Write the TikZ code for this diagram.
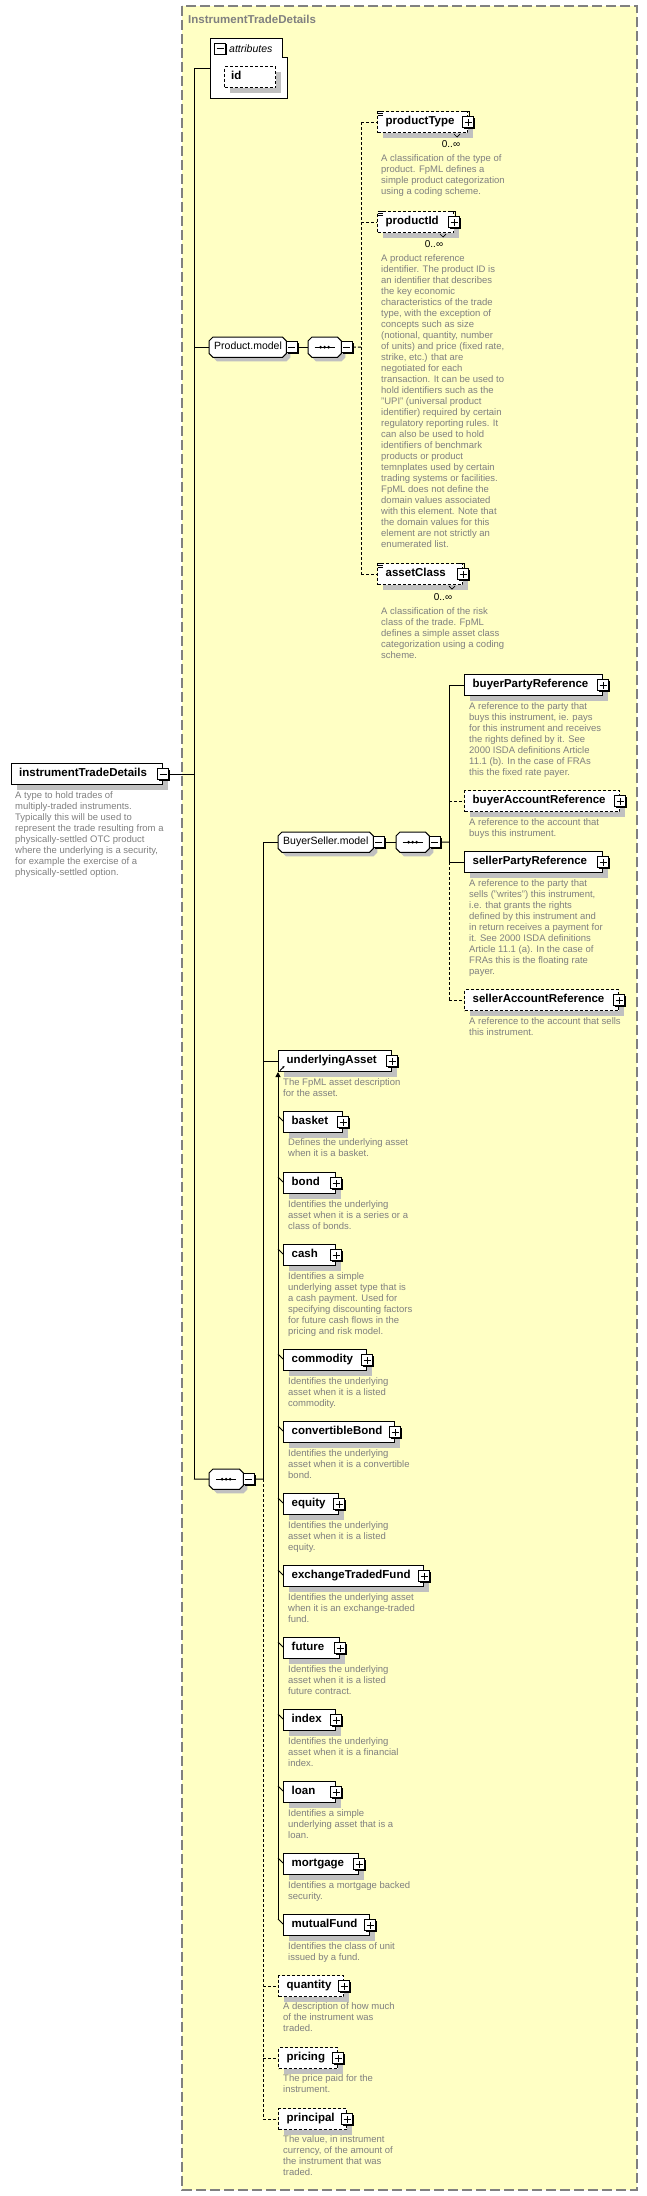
\documentclass[tikz,border=0pt]{standalone}
\usepackage{fontspec}
\setmainfont{Liberation Sans}
\usetikzlibrary{shadows,arrows.meta,calc}
\definecolor{bgyellow}{RGB}{255,255,196}
\definecolor{descgray}{RGB}{128,128,128}
\definecolor{bordergray}{RGB}{128,128,128}
\definecolor{shadowgray}{RGB}{192,192,192}
\tikzset{
  elembox/.style={draw, fill=white, line width=1pt, anchor=north west, minimum height=21pt, inner sep=0pt,
    drop shadow={shadow xshift=5pt, shadow yshift=-5pt, fill=shadowgray, opacity=1}},
  optbox/.style={elembox, dash pattern=on 3pt off 2pt},
  eltext/.style={anchor=west, font=\fontsize{11.5}{13}\selectfont\bfseries, inner sep=0pt, text height=8pt, text depth=3pt},
  grptext/.style={anchor=west, font=\fontsize{10.5}{12}\selectfont, inner sep=0pt, text height=7.5pt, text depth=2.5pt},
  desc/.style={anchor=north west, align=left, font=\fontsize{9.5}{11}\selectfont, text=descgray, inner sep=0pt},
  card/.style={font=\fontsize{10}{12}\selectfont, inner sep=0pt},
  pbox/.style={draw, fill=white, line width=1pt, minimum size=11pt, inner sep=0pt,
    drop shadow={shadow xshift=1.3pt, shadow yshift=-1.3pt, fill=black, opacity=1}},
  pbtn/.style={pbox, path picture={\draw[line width=1pt]
      ([xshift=-3.5pt]path picture bounding box.center) -- ([xshift=3.5pt]path picture bounding box.center)
      ([yshift=-3.5pt]path picture bounding box.center) -- ([yshift=3.5pt]path picture bounding box.center);}},
  mbtn/.style={pbox, path picture={\draw[line width=1pt]
      ([xshift=-3.5pt]path picture bounding box.center) -- ([xshift=3.5pt]path picture bounding box.center);}},
  grpbox/.style={anchor=north west, minimum height=20pt, inner sep=0pt, draw=none},
  conn/.style={line width=1pt},
  dconn/.style={line width=1pt, dash pattern=on 3pt off 2pt},
}
% element box with plus button: [style]{name}{x1}{y1}{x2}{text}
\newcommand\elm[6][elembox]{%
  \pgfmathsetmacro\elw{#5-#3}%
  \node[#1, minimum width=\elw pt] (#2) at (#3,#4) {};
  \node[eltext] (#2-t) at ([xshift=8.5pt]#2.west) {#6};
  \node[pbtn] (#2-p) at (#2.east) {};
}
% octagon outline around a group node
\newcommand\octo[1]{%
  \fill[shadowgray] ([shift={(4pt,-4pt)},xshift=4pt]#1.north west) -- ([shift={(4pt,-4pt)},xshift=-4pt]#1.north east)
    -- ([shift={(4pt,-4pt)},yshift=-4pt]#1.north east) -- ([shift={(4pt,-4pt)},yshift=4pt]#1.south east)
    -- ([shift={(4pt,-4pt)},xshift=-4pt]#1.south east) -- ([shift={(4pt,-4pt)},xshift=4pt]#1.south west)
    -- ([shift={(4pt,-4pt)},yshift=4pt]#1.south west) -- ([shift={(4pt,-4pt)},yshift=-4pt]#1.north west) -- cycle;
  \filldraw[fill=white, line width=1pt] ([xshift=4pt]#1.north west) -- ([xshift=-4pt]#1.north east)
    -- ([yshift=-4pt]#1.north east) -- ([yshift=4pt]#1.south east)
    -- ([xshift=-4pt]#1.south east) -- ([xshift=4pt]#1.south west)
    -- ([yshift=4pt]#1.south west) -- ([yshift=-4pt]#1.north west) -- cycle;
}
% group node: {name}{x1}{y1}{x2}
\newcommand\grp[4]{%
  \pgfmathsetmacro\gw{#4-#2}%
  \node[grpbox, minimum width=\gw pt] (#1) at (#2,#3) {};
  \octo{#1}
  \node[mbtn] (#1-m) at ([xshift=5.5pt]#1.east) {};
}
% sequence glyph
\newcommand\seqg[1]{%
  \draw[line width=1pt] ([xshift=-10pt]#1.center) -- ([xshift=10pt]#1.center);
  \fill ([xshift=-4pt]#1.center) circle (1.5pt) (#1.center) circle (1.5pt) ([xshift=4pt]#1.center) circle (1.5pt);
}
% multi-occurrence marks
\newcommand\multi[1]{%
  \draw[line width=0.7pt] ([shift={(0.5pt,-0.8pt)}]#1.north west) -- ++(5pt,0pt)
    ([shift={(0.5pt,-2.6pt)}]#1.north west) -- ++(5pt,0pt)
    ([shift={(0.5pt,-4.4pt)}]#1.north west) -- ++(5pt,0pt);
  \draw[line width=1pt] ([xshift=-4pt]#1.north east) -- ([xshift=1.5pt]#1.north east) -- ([shift={(1.5pt,-5pt)}]#1.north east);
  \draw[line width=0.7pt] ([shift={(-14pt,-1pt)}]#1.south east) -- ++(3pt,-3pt) -- ++(3pt,3pt);
}
% substitution tick
\newcommand\stick[1]{%
  \draw[conn] ($(#1.north west)+(-5pt,-5pt)$) -- ($(#1.north west)+(0pt,-10pt)$);
}
\begin{document}
\begin{tikzpicture}[x=1pt,y=-1pt]
\useasboundingbox (0,0) rectangle (647,2196);
\fill[bgyellow] (182,6) rectangle (637,2190);
\draw[bordergray, line width=1.2pt, dash pattern=on 10pt off 4pt] (182,6) rectangle (637,2190);
\node[anchor=west, font=\fontsize{11.5}{13}\selectfont\bfseries, text=bordergray, inner sep=0pt] (title) at (188,19) {InstrumentTradeDetails};

% attributes
\draw[fill=white, line width=1pt] (210,38) -- (282,38) -- (282,57) -- (287,57) -- (287,98) -- (210,98) -- cycle;
\coordinate (attrW) at (210,68);
\node[mbtn] (attr-m) at (220,48.5) {};
\node[anchor=west, font=\fontsize{10.5}{12}\selectfont\itshape, inner sep=0pt] (attr-t) at (229,48.5) {attributes};
\node[optbox, minimum width=51pt] (id) at (224,66) {};
\node[eltext] (id-t) at ([xshift=7pt]id.west) {id};

% root
\node[elembox, minimum width=151pt] (root) at (11,763) {};
\node[eltext] (root-t) at ([xshift=8pt]root.west) {instrumentTradeDetails};
\node[mbtn] (root-m) at (root.east) {};
\node[desc] (root-d) at (15,791.5) {A type to hold trades of\\multiply-traded instruments.\\Typically this will be used to\\represent the trade resulting from a\\physically-settled OTC product\\where the underlying is a security,\\for example the exercise of a\\physically-settled option.};

% spine
\coordinate (s0) at (194,68);
\coordinate (s3) at (194,1479);
\draw[conn] (attrW) -- (s0) -- (s3);
\draw[conn] (root-m.east) -- (root-m.east -| s0);

% Product.model
\grp{pm}{209}{337}{286}
\node[grptext] (pm-t) at ([xshift=5pt]pm.west) {Product.model};
\draw[conn] (pm.west -| s0) -- (pm.west);
\grp{sq1}{308}{337}{341}
\seqg{sq1}
\draw[conn] (pm-m.east) -- (sq1.west);
\coordinate (c1) at (361,347);
\draw[dconn] (sq1-m.east) -- (c1);

\elm[optbox]{pt}{377}{111}{467}{productType}
\multi{pt}
\node[card] (pt-c) at (451,144) {0..∞};
\node[desc] (pt-d) at (381,154.5) {A classification of the type of\\product. FpML defines a\\simple product categorization\\using a coding scheme.};

\elm[optbox]{pid}{377}{211}{453}{productId}
\multi{pid}
\node[card] (pid-c) at (434,244) {0..∞};
\node[desc] (pid-d) at (381,254.5) {A product reference\\identifier. The product ID is\\an identifier that describes\\the key economic\\characteristics of the trade\\type, with the exception of\\concepts such as size\\(notional, quantity, number\\of units) and price (fixed rate,\\strike, etc.) that are\\negotiated for each\\transaction. It can be used to\\hold identifiers such as the\\"UPI" (universal product\\identifier) required by certain\\regulatory reporting rules. It\\can also be used to hold\\identifiers of benchmark\\products or product\\temnplates used by certain\\trading systems or facilities.\\FpML does not define the\\domain values associated\\with this element. Note that\\the domain values for this\\element are not strictly an\\enumerated list.};

\elm[optbox]{ac}{377}{563}{462}{assetClass}
\multi{ac}
\node[card] (ac-c) at (443,597) {0..∞};
\node[desc] (ac-d) at (381,607.5) {A classification of the risk\\class of the trade. FpML\\defines a simple asset class\\categorization using a coding\\scheme.};

\draw[dconn] (pt.west -| c1) -- (ac.west -| c1);
\draw[dconn] (pt.west -| c1) -- (pt.west);
\draw[dconn] (pid.west -| c1) -- (pid.west);
\draw[dconn] (ac.west -| c1) -- (ac.west);

% sequence 2
\grp{sq2}{209}{1469}{243}
\seqg{sq2}
\draw[conn] (s3) -- (sq2.west);
\coordinate (c2) at (263,1479);
\draw[conn] (sq2-m.east) -- (c2);

% BuyerSeller.model
\grp{bs}{278}{832}{373}
\node[grptext] (bs-t) at ([xshift=5pt]bs.west) {BuyerSeller.model};
\grp{sq3}{396}{832}{429}
\seqg{sq3}
\draw[conn] (bs-m.east) -- (sq3.west);
\coordinate (c3) at (449,842);
\draw[conn] (sq3-m.east) -- (c3);

\elm{bpr}{464}{674}{602}{buyerPartyReference}
\node[desc] (bpr-d) at (469,702.5) {A reference to the party that\\buys this instrument, ie. pays\\for this instrument and receives\\the rights defined by it. See\\2000 ISDA definitions Article\\11.1 (b). In the case of FRAs\\this the fixed rate payer.};
\elm[optbox]{bar}{464}{790}{619}{buyerAccountReference}
\node[desc] (bar-d) at (469,818.5) {A reference to the account that\\buys this instrument.};
\elm{spr}{464}{851}{602}{sellerPartyReference}
\node[desc] (spr-d) at (469,879.5) {A reference to the party that\\sells ("writes") this instrument,\\i.e. that grants the rights\\defined by this instrument and\\in return receives a payment for\\it. See 2000 ISDA definitions\\Article 11.1 (a). In the case of\\FRAs this is the floating rate\\payer.};
\elm[optbox]{sar}{464}{989}{618}{sellerAccountReference}
\node[desc] (sar-d) at (469,1017.5) {A reference to the account that sells\\this instrument.};

\draw[conn] (bpr.west -| c3) -- (spr.west -| c3);
\draw[dconn] (spr.west -| c3) -- (sar.west -| c3);
\draw[conn] (bpr.west -| c3) -- (bpr.west);
\draw[dconn] (bar.west -| c3) -- (bar.west);
\draw[conn] (spr.west -| c3) -- (spr.west);
\draw[dconn] (sar.west -| c3) -- (sar.west);

% underlying asset group
\elm{ua}{278}{1050}{391}{underlyingAsset}
\draw[line width=0.8pt, -{Stealth[length=2.5pt,width=2.5pt]}] ([shift={(2pt,1.5pt)}]ua.south west) -- ([shift={(6.5pt,6pt)}]ua.south west);
\node[desc] (ua-d) at (283,1078.5) {The FpML asset description\\for the asset.};

\elm{basket}{283}{1111}{342}{basket}
\node[desc] (basket-d) at (288,1138.5) {Defines the underlying asset\\when it is a basket.};
\elm{bond}{283}{1172}{335}{bond}
\node[desc] (bond-d) at (288,1200.5) {Identifies the underlying\\asset when it is a series or a\\class of bonds.};
\elm{cash}{283}{1244}{335}{cash}
\node[desc] (cash-d) at (288,1272.5) {Identifies a simple\\underlying asset type that is\\a cash payment. Used for\\specifying discounting factors\\for future cash flows in the\\pricing and risk model.};
\elm{comm}{283}{1349}{366}{commodity}
\node[desc] (comm-d) at (288,1377.5) {Identifies the underlying\\asset when it is a listed\\commodity.};
\elm{cb}{283}{1421}{394}{convertibleBond}
\node[desc] (cb-d) at (288,1449.5) {Identifies the underlying\\asset when it is a convertible\\bond.};
\elm{eq}{283}{1493}{338}{equity}
\node[desc] (eq-d) at (288,1521.5) {Identifies the underlying\\asset when it is a listed\\equity.};
\elm{etf}{283}{1565}{423}{exchangeTradedFund}
\node[desc] (etf-d) at (288,1593.5) {Identifies the underlying asset\\when it is an exchange-traded\\fund.};
\elm{fut}{283}{1637}{339}{future}
\node[desc] (fut-d) at (288,1665.5) {Identifies the underlying\\asset when it is a listed\\future contract.};
\elm{idx}{283}{1709}{335}{index}
\node[desc] (idx-d) at (288,1737.5) {Identifies the underlying\\asset when it is a financial\\index.};
\elm{loan}{283}{1781}{335}{loan}
\node[desc] (loan-d) at (288,1809.5) {Identifies a simple\\underlying asset that is a\\loan.};
\elm{mort}{283}{1853}{358}{mortgage}
\node[desc] (mort-d) at (288,1881.5) {Identifies a mortgage backed\\security.};
\elm{mf}{283}{1914}{369}{mutualFund}
\node[desc] (mf-d) at (288,1942.5) {Identifies the class of unit\\issued by a fund.};

\coordinate (sgb) at ($(mf.north west)+(-5pt,-5pt)$);
\draw[conn, -{Triangle[length=5pt,width=5pt]}] (sgb) -- (ua.south west);
\stick{basket}\stick{bond}\stick{cash}\stick{comm}\stick{cb}\stick{eq}
\stick{etf}\stick{fut}\stick{idx}\stick{loan}\stick{mort}\stick{mf}

% optional trailing elements
\elm[optbox]{qty}{278}{1975}{343}{quantity}
\node[desc] (qty-d) at (283,2002.5) {A description of how much\\of the instrument was\\traded.};
\elm[optbox]{pri}{278}{2047}{337}{pricing}
\node[desc] (pri-d) at (283,2074.5) {The price paid for the\\instrument.};
\elm[optbox]{prn}{278}{2108}{346}{principal}
\node[desc] (prn-d) at (283,2135.5) {The value, in instrument\\currency, of the amount of\\the instrument that was\\traded.};

\draw[conn] (bs.west -| c2) -- (c2);
\draw[dconn] (c2) -- (prn.west -| c2);
\draw[conn] (bs.west -| c2) -- (bs.west);
\draw[conn] (ua.west -| c2) -- (ua.west);
\draw[dconn] (qty.west -| c2) -- (qty.west);
\draw[dconn] (pri.west -| c2) -- (pri.west);
\draw[dconn] (prn.west -| c2) -- (prn.west);
\end{tikzpicture}
\end{document}
